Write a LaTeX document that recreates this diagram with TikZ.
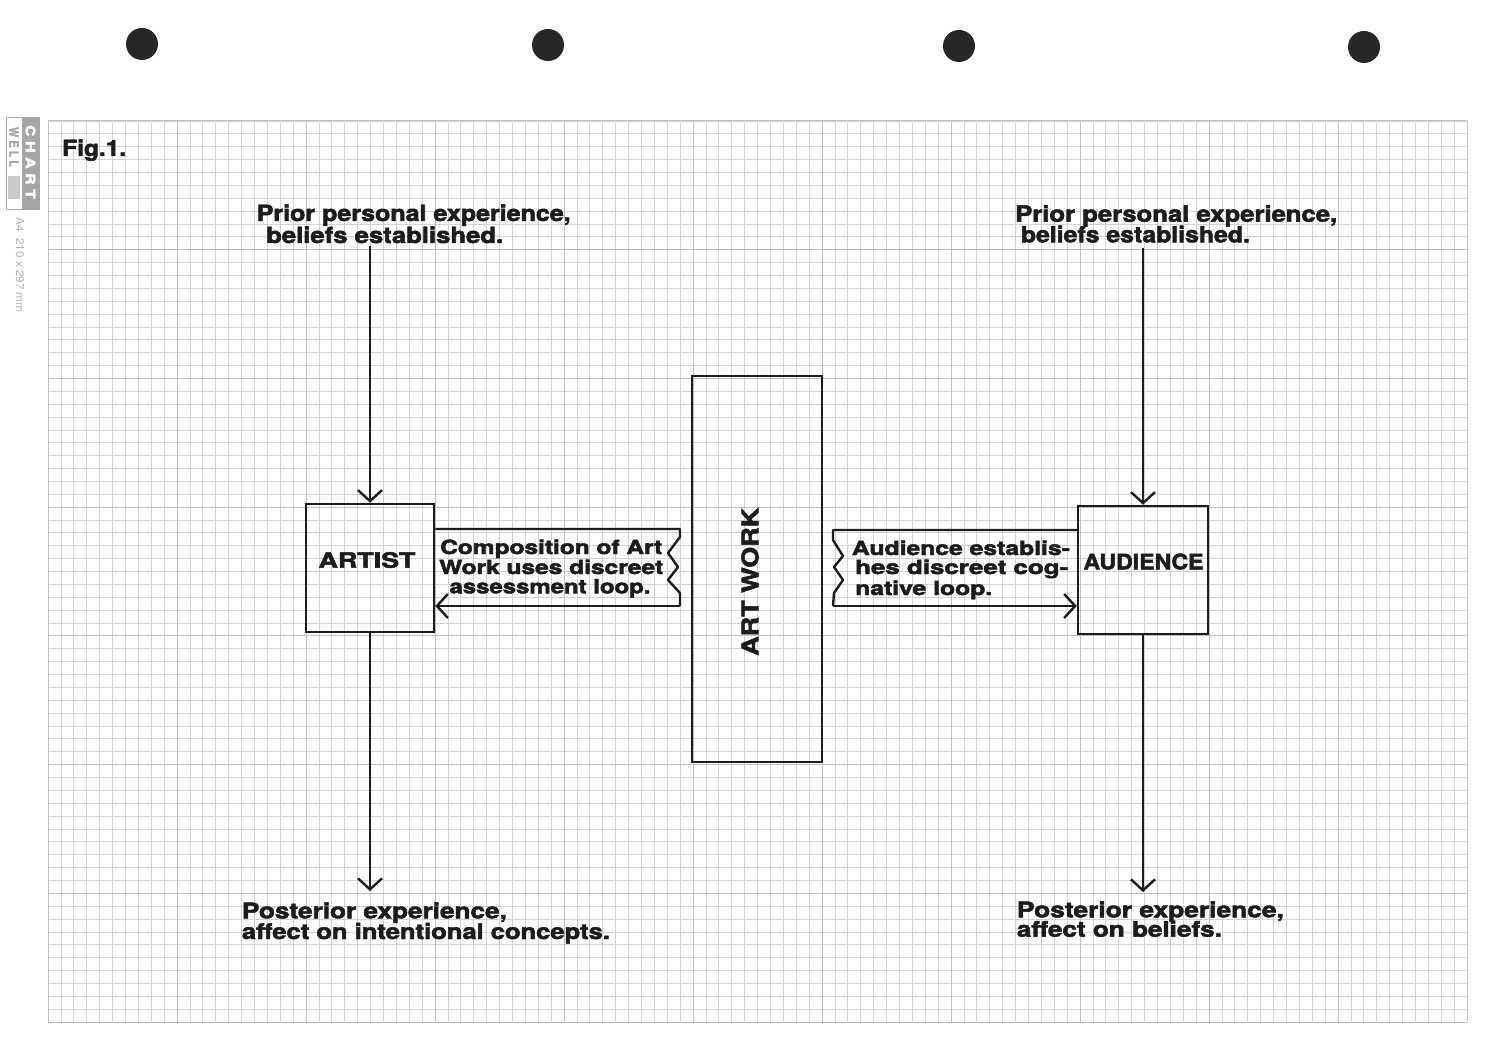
\documentclass[tikz,border=0pt]{standalone}
\usepackage{fontspec}
\usepackage{graphicx}
\setmainfont{TeX Gyre Heros}[BoldFeatures={FakeBold=2.2}]
\usetikzlibrary{arrows.meta}
\definecolor{inkc}{HTML}{1C1C1C}
\definecolor{gridminor}{HTML}{D3D3D3}
\definecolor{gridmajor}{HTML}{C0C0C0}
\definecolor{logogray}{HTML}{A6A6A6}
\newcommand{\fitw}[3]{\resizebox{#1pt}{\height}{\fontsize{#2}{#2}\selectfont #3}}
\begin{document}
\begin{tikzpicture}[x=1pt,y=-1pt,
  ink/.style={draw=inkc, line width=2.4pt, line join=round},
  arr/.style={-{Straight Barb[length=11pt,width=24pt]}},
  lab/.style={inner sep=0pt, anchor=base west, text=inkc, font=\bfseries},
  box/.style={draw=inkc, line width=2.5pt, inner sep=0pt},
  minorl/.style={draw=gridminor, line width=0.8pt},
  majorl/.style={draw=gridmajor, line width=1pt},
  hole/.style={fill=inkc!95, draw=none},
  logotxt/.style={inner sep=0pt, font=\bfseries}]
\useasboundingbox (0,0) rectangle (1500,1048);
\fill[white] (0,0) rectangle (1500,1048);
% punched holes
\fill[hole] (142,44) circle (16);
\fill[hole] (548,45) circle (16);
\fill[hole] (959,46) circle (16);
\fill[hole] (1364,47) circle (16);
% grid
\foreach \i in {0,...,110} {\pgfmathsetmacro\xx{48+\i*12.9}\draw[minorl] (\xx,121) -- (\xx,1022);}
\foreach \j in {0,...,70} {\pgfmathsetmacro\yy{121+\j*12.8714}\draw[minorl] (48,\yy) -- (1467,\yy);}
\foreach \i in {0,...,11} {\pgfmathsetmacro\xx{48+\i*129}\draw[majorl] (\xx,121) -- (\xx,1022);}
\foreach \j in {0,...,7} {\pgfmathsetmacro\yy{121+\j*128.714}\draw[majorl] (48,\yy) -- (1467,\yy);}
% Chartwell logo
\fill[logogray] (22,117) rectangle (39,209);
\draw[logogray, line width=0.8pt] (6,117) rectangle (39,209);
\fill[logogray!60] (8,176) rectangle (20,199);
\node[logotxt, text=white, rotate=-90] (chart) at (30.5,162) {\fitw{74}{13}{C H A R T}};
\node[logotxt, text=logogray, rotate=-90] (well) at (14,147) {\fitw{40}{13}{W E L L}};
\node[inner sep=0pt, text=logogray!85, rotate=-90] (a4) at (20,265) {\fitw{95}{11}{A4 \ 210 x 297 mm}};
% title
\node[lab] (fig) at (62,156) {\fitw{64}{22.3}{Fig.1.}};
% boxes
\node[box, minimum width=128, minimum height=128] (artist) at (370,568) {};
\node[box, minimum width=130, minimum height=128] (audience) at (1143,570) {};
\node[box, minimum width=130, minimum height=386] (artwork) at (757,569) {};
\node[lab] (artistl) at (318.3,567.7) {\fitw{97}{21}{ARTIST}};
\node[lab] (audiencel) at (1083.3,569.3) {\fitw{120}{21.3}{AUDIENCE}};
\node[lab, rotate=90] (artworkl) at (758.3,656) {\fitw{148}{23}{ART WORK}};
% top texts
\node[lab] (pl1) at (256.5,221) {\fitw{314}{22.3}{Prior personal experience,}};
\node[lab] (pl2) at (266,243) {\fitw{237}{22.3}{beliefs established.}};
\node[lab] (pr1) at (1015,221.7) {\fitw{322}{22.3}{Prior personal experience,}};
\node[lab] (pr2) at (1020.7,242.3) {\fitw{229}{22.3}{beliefs established.}};
% bottom texts
\node[lab] (bl1) at (241.7,918.3) {\fitw{265}{21.5}{Posterior experience,}};
\node[lab] (bl2) at (241.7,939) {\fitw{368}{21.5}{affect on intentional concepts.}};
\node[lab] (br1) at (1016.7,917.3) {\fitw{267}{21.5}{Posterior experience,}};
\node[lab] (br2) at (1016.7,936.7) {\fitw{205}{21.5}{affect on beliefs.}};
% banner texts
\node[lab] (cl1) at (440,554) {\fitw{222}{19.5}{Composition of Art}};
\node[lab] (cl2) at (439,574) {\fitw{224}{19.5}{Work uses discreet}};
\node[lab] (cl3) at (449.3,593.3) {\fitw{201}{19.5}{assessment loop.}};
\node[lab] (ar1) at (851.7,555) {\fitw{218}{19.5}{Audience establis-}};
\node[lab] (ar2) at (855,574) {\fitw{213}{19.5}{hes discreet cog-}};
\node[lab] (ar3) at (855,595) {\fitw{137}{19.5}{native loop.}};
% vertical connectors
\coordinate (lt) at (370,246);
\coordinate (lb) at (370,891);
\coordinate (rt) at (1143,248);
\coordinate (rb) at (1143,892);
\draw[ink, arr] (lt) -- (artist.north);
\draw[ink, arr] (artist.south) -- (lb);
\draw[ink, arr] (rt) -- (audience.north);
\draw[ink, arr] (audience.south) -- (rb);
% left banner
\coordinate (lbt) at (680,529);
\coordinate (lbb) at (680,606);
\draw[ink] (artist.east |- lbt) -- (lbt) -- (680,537) -- (668,553) -- (678,567) -- (668,580) -- (680,593) -- (lbb);
\draw[ink, arr] (lbb) -- (artist.east |- lbb);
% right banner
\coordinate (rbt) at (833,530);
\coordinate (rbb) at (833,606);
\draw[ink] (audience.west |- rbt) -- (rbt) -- (833,540) -- (843,556) -- (834,567) -- (843,580) -- (834,593) -- (rbb);
\draw[ink, arr] (rbb) -- (audience.west |- rbb);
\end{tikzpicture}
\end{document}
